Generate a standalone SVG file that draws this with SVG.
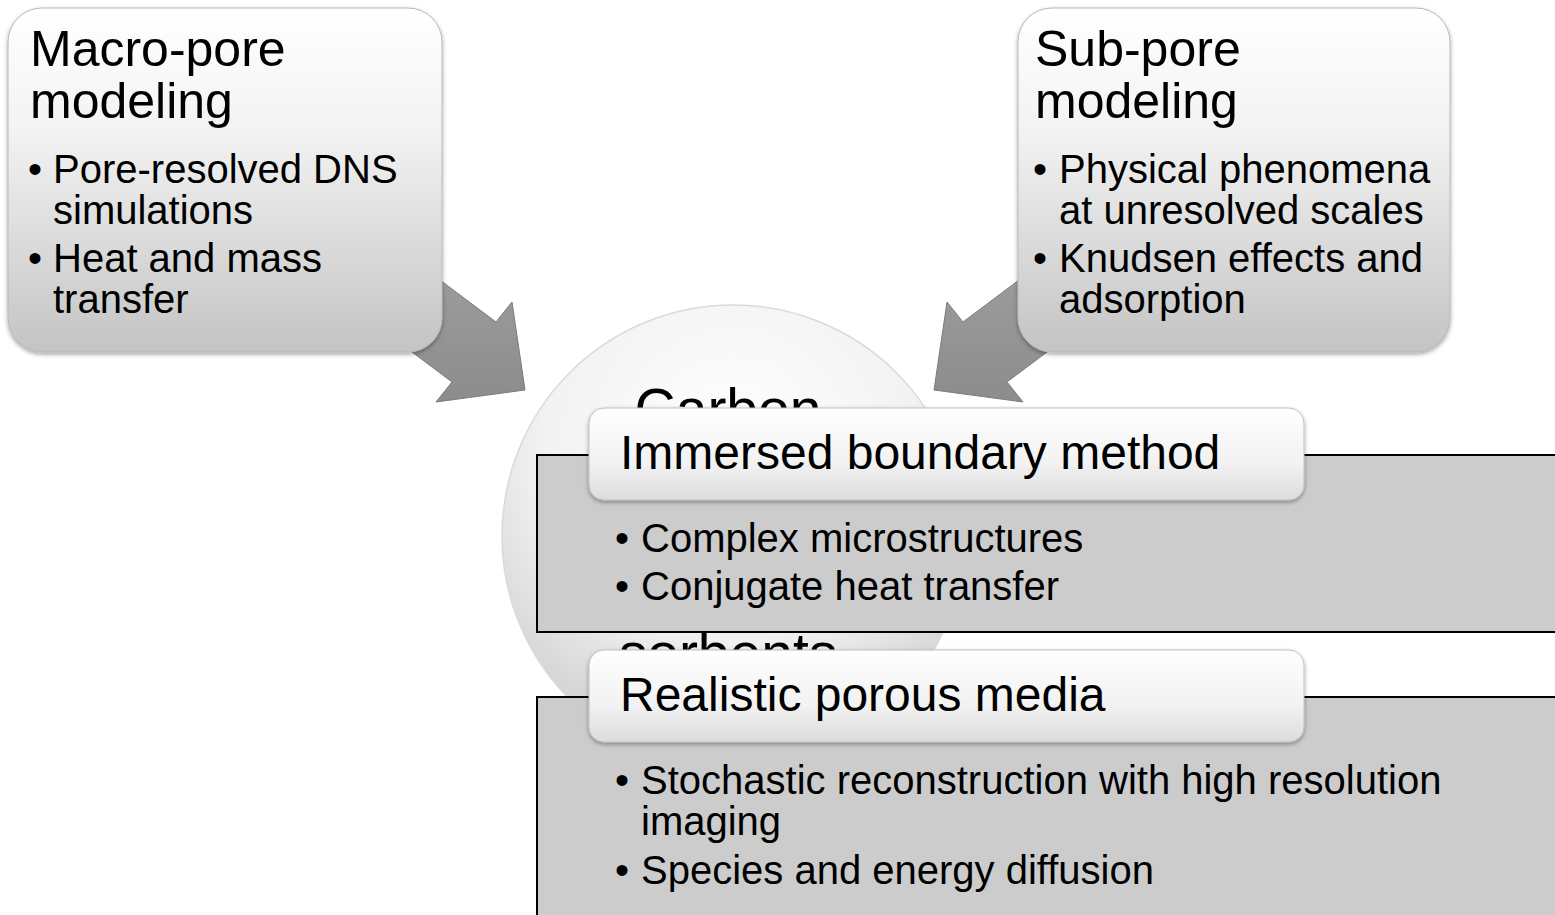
<svg xmlns="http://www.w3.org/2000/svg" width="1555" height="915" viewBox="0 0 1555 915">
<defs>
<linearGradient id="boxGrad" x1="0" y1="0" x2="0" y2="1">
<stop offset="0" stop-color="#ffffff"/>
<stop offset="0.35" stop-color="#f3f3f3"/>
<stop offset="1" stop-color="#c4c4c4"/>
</linearGradient>
<linearGradient id="tabGrad" x1="0" y1="0" x2="0" y2="1">
<stop offset="0" stop-color="#ffffff"/>
<stop offset="0.6" stop-color="#f2f2f2"/>
<stop offset="1" stop-color="#dcdcdc"/>
</linearGradient>
<radialGradient id="circGrad" cx="0.5" cy="0.3" r="0.75">
<stop offset="0" stop-color="#ffffff"/>
<stop offset="0.55" stop-color="#f2f2f2"/>
<stop offset="0.9" stop-color="#d2d2d2"/>
<stop offset="1" stop-color="#c4c4c4"/>
</radialGradient>
<linearGradient id="arrowGrad" x1="0" y1="0" x2="0" y2="1">
<stop offset="0" stop-color="#a2a2a2"/>
<stop offset="1" stop-color="#8c8c8c"/>
</linearGradient>
<clipPath id="clipTop"><rect x="500" y="370" width="460" height="38"/></clipPath>
<clipPath id="clipBot"><rect x="500" y="633" width="460" height="17"/></clipPath>
<filter id="shadow" x="-10%" y="-10%" width="120%" height="130%">
<feDropShadow dx="0" dy="2" stdDeviation="2" flood-color="#000" flood-opacity="0.35"/>
</filter>
</defs>
<style>
.t{font-family:"Liberation Sans",Arial,sans-serif;fill:#000}
.title{font-size:50px}
.bul{font-size:40px}
.tab{font-size:48px}
.ctext{font-size:57px}
.box{fill:url(#boxGrad);stroke:#b8b8b8;stroke-width:1}
.tabbox{fill:url(#tabGrad);stroke:#c0c0c0;stroke-width:1}
.panel{fill:#cccccc;stroke:#000;stroke-width:2}
.arrow{fill:url(#arrowGrad);stroke:#7c7c7c;stroke-width:1}
</style>
<rect width="1555" height="915" fill="#ffffff"/>

<g id="center">
<circle cx="733" cy="536" r="231" fill="url(#circGrad)" stroke="#dadada" stroke-width="1.5"/>
<text class="t ctext" x="728" y="429" text-anchor="middle" clip-path="url(#clipTop)">Carbon</text>
<text class="t ctext" x="728" y="673" text-anchor="middle" clip-path="url(#clipBot)">sorbents</text>
</g>

<g id="connectors">
<polygon class="arrow" points="368,226 496,322 512,302 525,390 436,402 452,382 324,286"/>
<polygon class="arrow" points="1091,226 963,322 947,302 934,390 1023,402 1007,382 1135,286"/>
</g>

<g id="macro">
<rect class="box" x="8" y="8" width="434" height="344" rx="34" filter="url(#shadow)"/>
<text class="t title" x="30" y="66">Macro-pore</text>
<text class="t title" x="30" y="118">modeling</text>
<text class="t bul" x="28" y="183">•</text>
<text class="t bul" x="53" y="183">Pore-resolved DNS</text>
<text class="t bul" x="53" y="224">simulations</text>
<text class="t bul" x="28" y="272">•</text>
<text class="t bul" x="53" y="272">Heat and mass</text>
<text class="t bul" x="53" y="313">transfer</text>
</g>

<g id="subpore">
<rect class="box" x="1018" y="8" width="432" height="344" rx="34" filter="url(#shadow)"/>
<text class="t title" x="1035" y="66">Sub-pore</text>
<text class="t title" x="1035" y="118">modeling</text>
<text class="t bul" x="1033" y="183">•</text>
<text class="t bul" x="1059" y="183">Physical phenomena</text>
<text class="t bul" x="1059" y="224">at unresolved scales</text>
<text class="t bul" x="1033" y="272">•</text>
<text class="t bul" x="1059" y="272">Knudsen effects and</text>
<text class="t bul" x="1059" y="313">adsorption</text>
</g>

<g id="immersed">
<rect class="panel" x="537" y="455" width="1040" height="177"/>
<rect class="tabbox" x="589" y="408" width="715" height="92" rx="15" filter="url(#shadow)"/>
<text class="t tab" x="620" y="469">Immersed boundary method</text>
<text class="t bul" x="615" y="552">•</text>
<text class="t bul" x="641" y="552">Complex microstructures</text>
<text class="t bul" x="615" y="600">•</text>
<text class="t bul" x="641" y="600">Conjugate heat transfer</text>
</g>

<g id="realistic">
<rect class="panel" x="537" y="697" width="1040" height="240"/>
<rect class="tabbox" x="589" y="650" width="715" height="92" rx="15" filter="url(#shadow)"/>
<text class="t tab" x="620" y="711">Realistic porous media</text>
<text class="t bul" x="615" y="794">•</text>
<text class="t bul" x="641" y="794">Stochastic reconstruction with high resolution</text>
<text class="t bul" x="641" y="835">imaging</text>
<text class="t bul" x="615" y="884">•</text>
<text class="t bul" x="641" y="884">Species and energy diffusion</text>
</g>
</svg>
